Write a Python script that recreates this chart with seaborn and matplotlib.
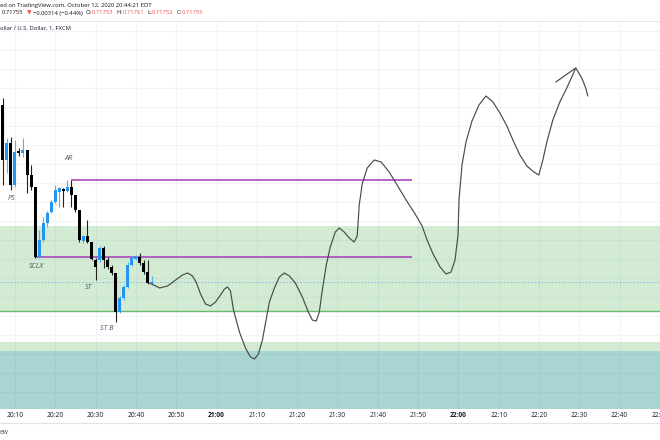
import numpy as np
import matplotlib
matplotlib.use("Agg")
import matplotlib.pyplot as plt
from matplotlib.lines import Line2D
import seaborn as sns

# ---------------- data (1-minute candles, minutes after 20:00) ----------------
candle_minute = list(range(7, 45))
candle_open = [.71932, .71877, .71894, .71852, .71886, .71884, .71887, .71862, .71850, .71780,
               .71797, .71814, .71825, .71835, .71845, .71848, .71846, .71850, .71842, .71827,
               .71796, .71801, .71795, .71777, .71777, .71789, .71777, .71770, .71764, .71725,
               .71739, .71750, .71772, .71778, .71780, .71774, .71765, .71753]
candle_high = [.71939, .71899, .71900, .71897, .71889, .71899, .71887, .71872, .71850, .71807,
               .71820, .71826, .71837, .71852, .71850, .71849, .71857, .71857, .71842, .71827,
               .71802, .71817, .71795, .71779, .71791, .71791, .71780, .71772, .71764, .71741,
               .71752, .71775, .71781, .71782, .71784, .71777, .71777, .71761]
candle_low = [.71852, .71864, .71847, .71850, .71881, .71880, .71844, .71847, .71779, .71779,
              .71795, .71810, .71824, .71834, .71830, .71830, .71845, .71830, .71825, .71795,
              .71794, .71794, .71777, .71757, .71775, .71769, .71768, .71762, .71715, .71724,
              .71737, .71749, .71771, .71777, .71772, .71763, .71753, .71752]
candle_close = [.71877, .71894, .71852, .71885, .71884, .71887, .71862, .71850, .71780, .71797,
                .71814, .71824, .71835, .71847, .71849, .71846, .71850, .71842, .71827, .71797,
                .71801, .71795, .71778, .71770, .71789, .71777, .71770, .71764, .71725, .71739,
                .71750, .71772, .71779, .71780, .71774, .71765, .71754, .71755]

# hand-drawn projection path (minutes after 20:00, price)
path_minute = [43.42, 45.89, 47.87, 49.85, 51.58, 52.82, 54.06, 55.05, 56.04, 57.28,
               58.51, 59.75, 60.99, 61.98, 62.72, 63.47, 64.21, 65.69, 67.18, 68.42,
               69.41, 70.40, 71.39, 72.38, 73.12, 74.36, 75.59, 76.83, 78.07, 79.55,
               81.29, 82.77, 83.76, 84.75, 85.50, 86.24, 87.23, 88.22, 89.46, 90.45,
               91.68, 92.92, 94.16, 94.90, 95.40, 96.14, 97.38, 99.11, 100.84, 102.82,
               104.80, 107.03, 109.26, 110.99, 112.23, 113.71, 115.45, 116.93, 118.17, 119.16,
               119.90, 120.15, 120.89, 121.88, 123.37, 125.10, 126.83, 128.56, 130.30, 132.03,
               133.51, 135.25, 136.98, 138.71, 139.95, 140.94, 141.93, 143.42, 145.15, 146.88,
               149.11, 150.59, 151.58, 152.08]
path_price = [.71754, .71749, .71751, .71757, .71762, .71764, .71761, .71754, .71743, .71733,
              .71731, .71735, .71742, .71748, .71750, .71746, .71727, .71705, .71689, .71680,
              .71678, .71683, .71697, .71719, .71735, .71749, .71760, .71764, .71761, .71754,
              .71740, .71725, .71717, .71716, .71725, .71747, .71772, .71790, .71805, .71809,
              .71805, .71799, .71795, .71801, .71832, .71853, .71869, .71877, .71875, .71865,
              .71852, .71837, .71823, .71811, .71797, .71783, .71770, .71763, .71765, .71777,
              .71802, .71837, .71872, .71895, .71916, .71932, .71941, .71935, .71924, .71911,
              .71897, .71882, .71871, .71865, .71862, .71877, .71895, .71917, .71935, .71949,
              .71969, .71959, .71949, .71941]
arrow_minute = [144.16, 149.11]
arrow_price = [.71955, .71969]

# levels
ar_level = 0.71857
sclx_level = 0.71780
level_start = [24, 15]
level_end = 108.5
zone_top, zone_bottom = 0.71811, 0.71726
lower_zone_top, teal_top = 0.71695, 0.71686
last_price = 0.71755

wyckoff_labels = ["PS", "AR", "SCLX", "ST", "ST B"]
wyckoff_minute = [9, 24, 15, 30, 35]
wyckoff_anchor = ["low", "high", "low", "low", "low"]

tick_minutes = list(range(10, 171, 10))
tick_labels = ["20:10", "20:20", "20:30", "20:40", "20:50", "21:00", "21:10", "21:20", "21:30",
               "21:40", "21:50", "22:00", "22:10", "22:20", "22:30", "22:40", "22:50"]

# ---------------- styling ----------------
sns.set_theme(style="white")
plt.rcParams['font.family'] = ['Open Sans', 'DejaVu Sans']
dark = '#131722'
red = '#ef5350'

fig = plt.figure(figsize=(6.6, 4.4), dpi=100)
ax = fig.add_axes([0, 31 / 440, 1, 388 / 440])

ax.set_xticks(tick_minutes)
ax.set_xticklabels(tick_labels)
ax.set_yticks(0.71835 + 0.00019 * np.arange(-12, 12))
ax.set_xlim(6.3, 170.0)
ax.set_ylim(0.71628, 0.72016)
ax.tick_params(axis='y', left=False, labelleft=False)
ax.tick_params(axis='x', length=0, pad=2.5, labelsize=4.8, labelcolor=dark)
for lab in ax.get_xticklabels():
    if lab.get_text().endswith(":00"):
        lab.set_fontweight('bold')
ax.grid(True, color='#f0f3fa', lw=0.8)
ax.set_axisbelow(True)
for s in ax.spines.values():
    s.set_visible(False)

# zones
ax.axhspan(zone_bottom, zone_top, color=(0.30, 0.69, 0.31), alpha=0.25, lw=0, zorder=1)
ax.axhspan(teal_top, lower_zone_top, color=(0.30, 0.69, 0.31), alpha=0.25, lw=0, zorder=1)
ax.axhspan(0.70, teal_top, color=(0.0, 0.52, 0.48), alpha=0.34, lw=0, zorder=1)
ax.axhline(zone_bottom, color='#66bb6a', lw=1.0, zorder=2)
ax.axhline(last_price, color='#7fb8e6', lw=0.7, ls=(0, (1.5, 2)), zorder=2)

# purple levels
ax.hlines([ar_level, sclx_level], level_start, level_end, color='#ab47bc', lw=1.2, zorder=3)

# candles
o = np.array(candle_open); c = np.array(candle_close)
h = np.array(candle_high); l = np.array(candle_low)
up = c >= o
body_col = np.where(up, '#2196f3', '#000000')
wick_col = np.where(up, '#5aaef5', '#222222')
ax.vlines(candle_minute, l, h, colors=wick_col, lw=0.8, zorder=4)
ax.bar(candle_minute, c - o, bottom=o, width=0.74, color=body_col, lw=0, zorder=5)

# projection path
sns.lineplot(x=path_minute, y=path_price, sort=False, estimator=None, color='#4a4a4a',
             lw=0.85, ax=ax, zorder=6)
sns.lineplot(x=arrow_minute, y=arrow_price, sort=False, estimator=None, color='#4a4a4a',
             lw=0.85, ax=ax, zorder=6)

# wyckoff labels
label_offsets = [(1, -8), (-3, 22), (1, -8), (-7, -7), (-9, -6)]
for txt, m, anc, off in zip(wyckoff_labels, wyckoff_minute, wyckoff_anchor, label_offsets):
    i = candle_minute.index(m)
    yv = candle_high[i] if anc == "high" else candle_low[i]
    ax.annotate(txt, (m, yv), xytext=off, textcoords='offset pixels', ha='center', va='center',
                fontsize=5.2, style='italic', color='#50535e', zorder=7)

ax.set_xlabel(""); ax.set_ylabel("")

# header texts
hfs = 4.25
fig.text(0.0, 1 - 5 / 440, "ed on TradingView.com, October 12, 2020 20:44:21 EDT",
         fontsize=hfs, color=dark, va='center')
fig.text(0.0, 1 - 28 / 440, "ollar / U.S. Dollar, 1, FXCM", fontsize=hfs, color=dark, va='center')
pieces = [("0.71755", dark, 3), ("▼", red, 2), ("−0.00314 (−0.44%)", dark, 3),
          ("O:", dark, 0), ("0.71753", red, 3), ("H:", dark, 0), ("0.71761", red, 3),
          ("L:", dark, 0), ("0.71752", red, 3), ("C:", dark, 0), ("0.71755", red, 0)]
renderer = fig.canvas.get_renderer()
xpos = 2.0
for s, col, gap in pieces:
    t = fig.text(xpos / 660, 1 - 13 / 440, s, fontsize=hfs, color=col, va='center')
    xpos += t.get_window_extent(renderer).width + gap
fig.add_artist(Line2D([0, 1], [1 - 21 / 440] * 2, color='#e0e3eb', lw=0.6))
fig.add_artist(Line2D([0, 1], [1 - 423 / 440] * 2, color='#e0e3eb', lw=0.8))
fig.text(0.0, 1 - 432 / 440, "ew", fontsize=4.8, color='#50535e', va='center')

fig.savefig("out.png", dpi=100)
